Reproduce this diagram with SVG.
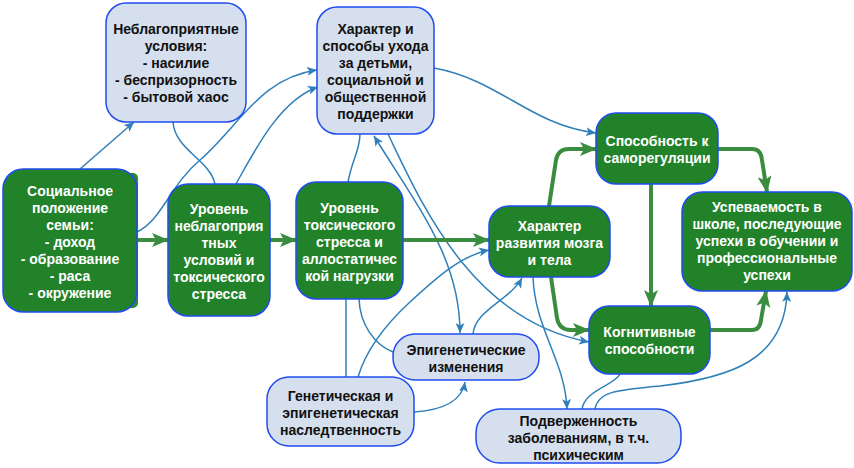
<svg xmlns="http://www.w3.org/2000/svg" width="854" height="468" viewBox="0 0 854 468">
<defs>
<style>
.g rect.b{fill:#22822a;stroke:#1f4cf0;stroke-width:1.5}
.l rect.b{fill:#d5dfee;stroke:#1f4cf0;stroke-width:1.5}
text{font-family:"Liberation Sans",Arial,sans-serif;font-weight:bold;font-size:14px;text-anchor:middle}
.g text{fill:#ffffff}
.l text{fill:#111111}
.cg{fill:none;stroke:#3a8c3f;stroke-width:4}
.cb{fill:none;stroke:#2f80ba;stroke-width:1.5}
</style>
<marker id="ag" markerUnits="userSpaceOnUse" markerWidth="18" markerHeight="14" refX="16" refY="7" orient="auto">
<path d="M0,0 L17,7 L0,14 L4,7 Z" fill="#3a8c3f"/>
</marker>
<marker id="ab" markerUnits="userSpaceOnUse" markerWidth="11" markerHeight="9" refX="10" refY="4.5" orient="auto-start-reverse">
<path d="M0,0 L10,4.5 L0,9 L2.5,4.5 Z" fill="#2f80ba"/>
</marker>
</defs>
<rect width="854" height="468" fill="#ffffff"/>

<g id="connectors">
<path class="cb" d="M80,169 L134,122" marker-end="url(#ab)"/>
<path class="cb" d="M173,122 C175,150 210,160 215,184"/>
<path class="cb" d="M137,232 C162,220 170,185 200,160 C240,125 260,78 317,70" marker-end="url(#ab)"/>
<path class="cb" d="M236,184 C255,150 280,100 318,87" marker-end="url(#ab)"/>
<path class="cb" d="M348,182 C352,160 360,150 360,134"/>
<path class="cb" d="M434,68 C500,80 530,125 596,133" marker-end="url(#ab)"/>
<path class="cb" d="M374,136 C420,210 460,260 460,333" marker-start="url(#ab)" marker-end="url(#ab)"/>
<path class="cb" d="M388,134 C420,200 470,320 589,342" marker-end="url(#ab)"/>
<path class="cb" d="M358,377 C366,350 385,325 410,302 C435,279 460,256 489,250" marker-end="url(#ab)"/>
<path class="cb" d="M359,299 C360,325 375,345 393,352"/>
<path class="cb" d="M346,299 L346,377"/>
<path class="cb" d="M414,412 C445,410 462,400 465,382" marker-end="url(#ab)"/>
<path class="cb" d="M473,334 C475,310 510,300 522,278" marker-end="url(#ab)"/>
<path class="cb" d="M533,277 C535,330 565,360 567,409" marker-end="url(#ab)"/>
<path class="cb" d="M582,409 C585,390 615,385 620,374"/>
<path class="cb" d="M595,409 C598,392 615,390 660,386 C730,378 785,360 787,292" marker-end="url(#ab)"/>

<path class="cg" d="M137,240 L168,240" marker-end="url(#ag)"/>
<path class="cg" d="M270,240 L296,240" marker-end="url(#ag)"/>
<path class="cg" d="M403,240 L489,240" marker-end="url(#ag)"/>
<path class="cg" d="M549,206 L556,160 Q558,149 569,149 L596,149" marker-end="url(#ag)"/>
<path class="cg" d="M718,149 L752,149 Q761,149 762,160 L767,192" marker-end="url(#ag)"/>
<path class="cg" d="M651,184 L651,306" marker-end="url(#ag)"/>
<path class="cg" d="M551,277 L557,318 Q559,330 571,330 L589,330" marker-end="url(#ag)"/>
<path class="cg" d="M710,330 L752,330 Q760,330 761,320 L766,291" marker-end="url(#ag)"/>
</g>

<g id="n1" class="l">
<rect class="b" x="106" y="3" width="140" height="119" rx="20"/>
<text x="176" y="34">Неблагоприятные</text>
<text x="176" y="51">условия:</text>
<text x="176" y="68">- насилие</text>
<text x="176" y="85">- беспризорность</text>
<text x="176" y="102">- бытовой хаос</text>
</g>

<g id="n2" class="l">
<rect class="b" x="317" y="7" width="117" height="127" rx="20"/>
<text x="375.5" y="34">Характер и</text>
<text x="375.5" y="51">способы ухода</text>
<text x="375.5" y="68">за детьми,</text>
<text x="375.5" y="85">социальной и</text>
<text x="375.5" y="102">общественной</text>
<text x="375.5" y="119">поддержки</text>
</g>

<g id="n3" class="g">
<rect x="10" y="173" width="128" height="135" rx="5" fill="#2a8a30"/>
<rect class="b" x="3" y="169" width="134" height="143" rx="20"/>
<text x="70" y="196">Социальное</text>
<text x="70" y="213">положение</text>
<text x="70" y="230">семьи:</text>
<text x="70" y="247">- доход</text>
<text x="70" y="264">- образование</text>
<text x="70" y="281">- раса</text>
<text x="70" y="298">- окружение</text>
</g>

<g id="n4" class="g">
<rect class="b" x="168" y="184" width="102" height="132" rx="20"/>
<text x="219" y="214">Уровень</text>
<text x="219" y="231">неблагоприя</text>
<text x="219" y="248">тных</text>
<text x="219" y="265">условий и</text>
<text x="219" y="282">токсического</text>
<text x="219" y="299">стресса</text>
</g>

<g id="n5" class="g">
<rect class="b" x="296" y="182" width="107" height="117" rx="20"/>
<text x="349.5" y="213">Уровень</text>
<text x="349.5" y="230">токсического</text>
<text x="349.5" y="247">стресса и</text>
<text x="349.5" y="264">аллостатичес</text>
<text x="349.5" y="281">кой нагрузки</text>
</g>

<g id="n6" class="g">
<rect class="b" x="489" y="206" width="121" height="71" rx="20"/>
<text x="549.5" y="231">Характер</text>
<text x="549.5" y="248">развития мозга</text>
<text x="549.5" y="265">и тела</text>
</g>

<g id="n7" class="g">
<rect class="b" x="596" y="113" width="122" height="71" rx="20"/>
<text x="657" y="146">Способность к</text>
<text x="657" y="163">саморегуляции</text>
</g>

<g id="n8" class="g">
<rect class="b" x="682" y="192" width="170" height="99" rx="20"/>
<text x="767" y="212">Успеваемость в</text>
<text x="767" y="229">школе, последующие</text>
<text x="767" y="246">успехи в обучении и</text>
<text x="767" y="263">профессиональные</text>
<text x="767" y="280">успехи</text>
</g>

<g id="n9" class="g">
<rect class="b" x="589" y="306" width="121" height="68" rx="20"/>
<text x="649.5" y="337">Когнитивные</text>
<text x="649.5" y="354">способности</text>
</g>

<g id="n10" class="l">
<rect class="b" x="393" y="334" width="146" height="46" rx="22"/>
<text x="466" y="355">Эпигенетические</text>
<text x="466" y="372">изменения</text>
</g>

<g id="n11" class="l">
<rect class="b" x="267" y="377" width="147" height="69" rx="22"/>
<text x="340.5" y="401">Генетическая и</text>
<text x="340.5" y="418">эпигенетическая</text>
<text x="340.5" y="435">наследтвенность</text>
</g>

<g id="n12" class="l">
<rect class="b" x="476" y="409" width="205" height="54" rx="24"/>
<text x="578.5" y="426">Подверженность</text>
<text x="578.5" y="443">заболеваниям, в т.ч.</text>
<text x="578.5" y="460">психическим</text>
</g>
</svg>
